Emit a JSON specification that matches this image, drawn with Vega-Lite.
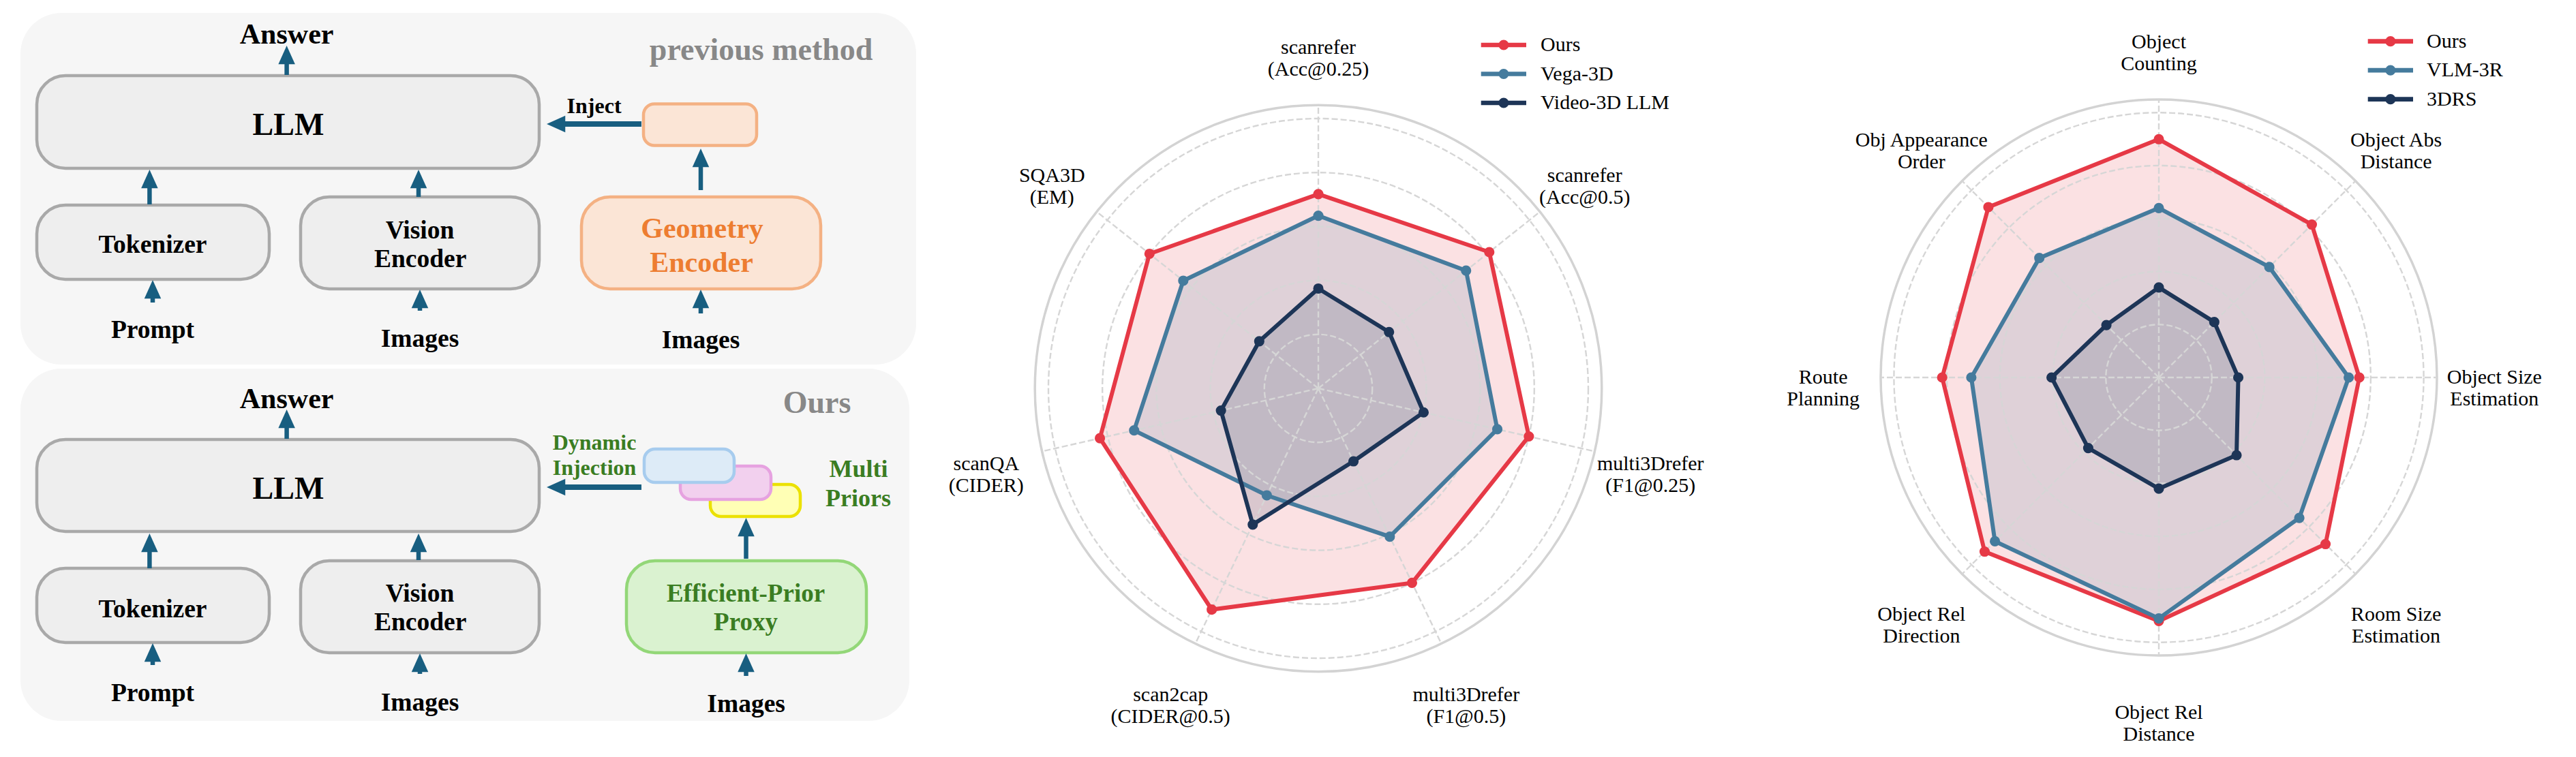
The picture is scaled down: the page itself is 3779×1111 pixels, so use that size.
{
  "$schema": "https://vega.github.io/schema/vega-lite/v6.json",
  "background": "white",
  "padding": 0,
  "spacing": 0,
  "bounds": "flush",
  "config": {"view": {"stroke": null}, "axis": {"disable": true}},
  "resolve": {
    "scale": {"color": "independent", "fill": "independent", "stroke": "independent", "size": "independent", "shape": "independent", "strokeWidth": "independent"},
    "legend": {"color": "independent", "fill": "independent", "stroke": "independent", "size": "independent", "shape": "independent", "strokeWidth": "independent"}
  },
  "datasets": {
    "panels": [
      {"x": 30, "x2": 1344, "y": 19, "y2": 535},
      {"x": 30, "x2": 1334, "y": 541, "y2": 1058}
    ],
    "bigboxes": [
      {"x": 54, "x2": 791, "y": 111, "y2": 247, "k": "gray"},
      {"x": 54, "x2": 395, "y": 301, "y2": 410, "k": "gray"},
      {"x": 441, "x2": 791, "y": 289, "y2": 424, "k": "gray"},
      {"x": 853, "x2": 1204, "y": 289, "y2": 424, "k": "peach"},
      {"x": 54, "x2": 791, "y": 645, "y2": 780, "k": "gray"},
      {"x": 54, "x2": 395, "y": 834, "y2": 943, "k": "gray"},
      {"x": 441, "x2": 791, "y": 823, "y2": 958, "k": "gray"},
      {"x": 919, "x2": 1271, "y": 823, "y2": 958, "k": "green"}
    ],
    "smallboxes": [
      {"x": 944, "x2": 1110, "y": 152.5, "y2": 213.5, "k": "peach"},
      {"x": 1042, "x2": 1174, "y": 711, "y2": 758, "k": "yellow"},
      {"x": 998, "x2": 1131, "y": 684, "y2": 733, "k": "pink"},
      {"x": 945, "x2": 1077, "y": 659, "y2": 708, "k": "blue"}
    ],
    "arrows": [
      {"x": 420.6, "y": 110, "x2": 420.6, "y2": 93, "d": "up"},
      {"x": 219.4, "y": 300, "x2": 219.4, "y2": 275, "d": "up"},
      {"x": 614, "y": 289, "x2": 614, "y2": 275, "d": "up"},
      {"x": 224, "y": 444, "x2": 224, "y2": 437, "d": "up"},
      {"x": 616, "y": 456, "x2": 616, "y2": 451, "d": "up"},
      {"x": 1028, "y": 460, "x2": 1028, "y2": 451, "d": "up"},
      {"x": 1028, "y": 279, "x2": 1028, "y2": 244, "d": "up"},
      {"x": 941, "y": 182, "x2": 828, "y2": 182, "d": "left"},
      {"x": 420.6, "y": 644, "x2": 420.6, "y2": 627, "d": "up"},
      {"x": 219.4, "y": 834, "x2": 219.4, "y2": 809, "d": "up"},
      {"x": 614, "y": 822, "x2": 614, "y2": 809, "d": "up"},
      {"x": 224, "y": 976, "x2": 224, "y2": 970, "d": "up"},
      {"x": 616, "y": 989, "x2": 616, "y2": 985, "d": "up"},
      {"x": 1094.5, "y": 992, "x2": 1094.5, "y2": 985, "d": "up"},
      {"x": 1094.5, "y": 820, "x2": 1094.5, "y2": 786, "d": "up"},
      {"x": 941, "y": 715, "x2": 828, "y2": 715, "d": "left"}
    ],
    "texts": [
      {"t": "Answer", "x": 420.6, "y": 63.7, "k": "ans"},
      {"t": "LLM", "x": 423, "y": 198, "k": "llm"},
      {"t": "Tokenizer", "x": 224, "y": 371, "k": "lab"},
      {"t": "Vision", "x": 616, "y": 349.5, "k": "lab"},
      {"t": "Encoder", "x": 616.7, "y": 392, "k": "lab"},
      {"t": "Geometry", "x": 1030, "y": 348.5, "k": "geo"},
      {"t": "Encoder", "x": 1029, "y": 399.4, "k": "geo"},
      {"t": "Prompt", "x": 224, "y": 496, "k": "lab"},
      {"t": "Images", "x": 616, "y": 509, "k": "lab"},
      {"t": "Images", "x": 1028, "y": 511.4, "k": "lab"},
      {"t": "previous method", "x": 1116.6, "y": 87.8, "k": "hdr"},
      {"t": "Inject", "x": 871.6, "y": 166, "k": "inj"},
      {"t": "Answer", "x": 420.6, "y": 598.5, "k": "ans"},
      {"t": "LLM", "x": 423, "y": 732, "k": "llm"},
      {"t": "Tokenizer", "x": 224, "y": 906, "k": "lab"},
      {"t": "Vision", "x": 616, "y": 883, "k": "lab"},
      {"t": "Encoder", "x": 616.7, "y": 924.6, "k": "lab"},
      {"t": "Efficient-Prior", "x": 1094, "y": 883, "k": "prox"},
      {"t": "Proxy", "x": 1094, "y": 924.6, "k": "prox"},
      {"t": "Prompt", "x": 224, "y": 1029.4, "k": "lab"},
      {"t": "Images", "x": 616, "y": 1043, "k": "lab"},
      {"t": "Images", "x": 1094.6, "y": 1045, "k": "lab"},
      {"t": "Ours", "x": 1198.5, "y": 606, "k": "hdr"},
      {"t": "Dynamic", "x": 872, "y": 659.7, "k": "dyn"},
      {"t": "Injection", "x": 872, "y": 696.7, "k": "dyn"},
      {"t": "Multi", "x": 1259.5, "y": 700.4, "k": "multi"},
      {"t": "Priors", "x": 1259, "y": 743, "k": "multi"}
    ],
    "grid": [{"r": 0.2}, {"r": 0.4}, {"r": 0.6}, {"r": 0.8}, {"r": 1.0}],
    "spine": [{"r": 1.05}],
    "leg1": [{"model": "Ours", "rank": 0}, {"model": "Vega-3D", "rank": 1}, {"model": "Video-3D LLM", "rank": 2}],
    "leg2": [{"model": "Ours", "rank": 0}, {"model": "VLM-3R", "rank": 1}, {"model": "3DRS", "rank": 2}],
    "r1": [
      {"m": 0, "model": "Ours", "v": 0.72}, {"m": 1, "model": "Ours", "v": 0.81}, {"m": 2, "model": "Ours", "v": 0.80}, {"m": 3, "model": "Ours", "v": 0.80}, {"m": 4, "model": "Ours", "v": 0.91}, {"m": 5, "model": "Ours", "v": 0.83}, {"m": 6, "model": "Ours", "v": 0.80},
      {"m": 0, "model": "Vega-3D", "v": 0.64}, {"m": 1, "model": "Vega-3D", "v": 0.70}, {"m": 2, "model": "Vega-3D", "v": 0.68}, {"m": 3, "model": "Vega-3D", "v": 0.61}, {"m": 4, "model": "Vega-3D", "v": 0.44}, {"m": 5, "model": "Vega-3D", "v": 0.70}, {"m": 6, "model": "Vega-3D", "v": 0.64},
      {"m": 0, "model": "Video-3D LLM", "v": 0.37}, {"m": 1, "model": "Video-3D LLM", "v": 0.335}, {"m": 2, "model": "Video-3D LLM", "v": 0.40}, {"m": 3, "model": "Video-3D LLM", "v": 0.30}, {"m": 4, "model": "Video-3D LLM", "v": 0.56}, {"m": 5, "model": "Video-3D LLM", "v": 0.37}, {"m": 6, "model": "Video-3D LLM", "v": 0.28}
    ],
    "r1axes": [
      {"m": 0, "label": "scanrefer\n(Acc@0.25)"},
      {"m": 1, "label": "scanrefer\n(Acc@0.5)"},
      {"m": 2, "label": "multi3Drefer\n(F1@0.25)"},
      {"m": 3, "label": "multi3Drefer\n(F1@0.5)"},
      {"m": 4, "label": "scan2cap\n(CIDER@0.5)"},
      {"m": 5, "label": "scanQA\n(CIDER)"},
      {"m": 6, "label": "SQA3D\n(EM)"}
    ],
    "r2": [
      {"m": 0, "model": "Ours", "v": 0.90}, {"m": 1, "model": "Ours", "v": 0.817}, {"m": 2, "model": "Ours", "v": 0.757}, {"m": 3, "model": "Ours", "v": 0.89}, {"m": 4, "model": "Ours", "v": 0.92}, {"m": 5, "model": "Ours", "v": 0.93}, {"m": 6, "model": "Ours", "v": 0.818}, {"m": 7, "model": "Ours", "v": 0.91},
      {"m": 0, "model": "VLM-3R", "v": 0.64}, {"m": 1, "model": "VLM-3R", "v": 0.59}, {"m": 2, "model": "VLM-3R", "v": 0.717}, {"m": 3, "model": "VLM-3R", "v": 0.75}, {"m": 4, "model": "VLM-3R", "v": 0.91}, {"m": 5, "model": "VLM-3R", "v": 0.875}, {"m": 6, "model": "VLM-3R", "v": 0.708}, {"m": 7, "model": "VLM-3R", "v": 0.638},
      {"m": 0, "model": "3DRS", "v": 0.34}, {"m": 1, "model": "3DRS", "v": 0.296}, {"m": 2, "model": "3DRS", "v": 0.30}, {"m": 3, "model": "3DRS", "v": 0.415}, {"m": 4, "model": "3DRS", "v": 0.42}, {"m": 5, "model": "3DRS", "v": 0.377}, {"m": 6, "model": "3DRS", "v": 0.405}, {"m": 7, "model": "3DRS", "v": 0.28}
    ],
    "r2axes": [
      {"m": 0, "label": "Object\nCounting"},
      {"m": 1, "label": "Object Abs\nDistance"},
      {"m": 2, "label": "Object Size\nEstimation"},
      {"m": 3, "label": "Room Size\nEstimation"},
      {"m": 4, "label": "Object Rel\nDistance"},
      {"m": 5, "label": "Object Rel\nDirection"},
      {"m": 6, "label": "Route\nPlanning"},
      {"m": 7, "label": "Obj Appearance\nOrder"}
    ]
  },
  "hconcat": [
    {
      "width": 1350,
      "height": 1111,
      "layer": [
        {
          "data": {"name": "panels"},
          "mark": {"type": "rect", "fill": "#f6f6f6", "cornerRadius": 60},
          "encoding": {
            "x": {"field": "x", "type": "quantitative", "scale": {"domain": [0, 1350], "nice": false, "zero": false}},
            "x2": {"field": "x2"},
            "y": {"field": "y", "type": "quantitative", "scale": {"domain": [0, 1111], "nice": false, "zero": false, "reverse": true}},
            "y2": {"field": "y2"}
          }
        },
        {
          "data": {"name": "bigboxes"},
          "mark": {"type": "rect", "cornerRadius": 42, "strokeWidth": 4.5},
          "encoding": {
            "x": {"field": "x", "type": "quantitative", "scale": {"domain": [0, 1350], "nice": false, "zero": false}},
            "x2": {"field": "x2"},
            "y": {"field": "y", "type": "quantitative", "scale": {"domain": [0, 1111], "nice": false, "zero": false, "reverse": true}},
            "y2": {"field": "y2"},
            "fill": {"field": "k", "type": "nominal", "legend": null, "scale": {"domain": ["gray", "peach", "green", "yellow", "pink", "blue"], "range": ["#eeeeee", "#fbe5d6", "#daf2d0", "#ffffb5", "#f2d0ee", "#ddebf7"]}},
            "stroke": {"field": "k", "type": "nominal", "legend": null, "scale": {"domain": ["gray", "peach", "green", "yellow", "pink", "blue"], "range": ["#a9a9a9", "#f4b183", "#93d778", "#ebe100", "#e6a2e0", "#a7ccee"]}}
          }
        },
        {
          "data": {"name": "smallboxes"},
          "mark": {"type": "rect", "cornerRadius": 16, "strokeWidth": 4.5},
          "encoding": {
            "x": {"field": "x", "type": "quantitative", "scale": {"domain": [0, 1350], "nice": false, "zero": false}},
            "x2": {"field": "x2"},
            "y": {"field": "y", "type": "quantitative", "scale": {"domain": [0, 1111], "nice": false, "zero": false, "reverse": true}},
            "y2": {"field": "y2"},
            "fill": {"field": "k", "type": "nominal", "legend": null, "scale": {"domain": ["gray", "peach", "green", "yellow", "pink", "blue"], "range": ["#eeeeee", "#fbe5d6", "#daf2d0", "#ffffb5", "#f2d0ee", "#ddebf7"]}},
            "stroke": {"field": "k", "type": "nominal", "legend": null, "scale": {"domain": ["gray", "peach", "green", "yellow", "pink", "blue"], "range": ["#a9a9a9", "#f4b183", "#93d778", "#ebe100", "#e6a2e0", "#a7ccee"]}}
          }
        },
        {
          "data": {"name": "arrows"},
          "mark": {"type": "rule", "color": "#185E80"},
          "encoding": {
            "x": {"field": "x", "type": "quantitative", "scale": {"domain": [0, 1350], "nice": false, "zero": false}},
            "x2": {"field": "x2"},
            "y": {"field": "y", "type": "quantitative", "scale": {"domain": [0, 1111], "nice": false, "zero": false, "reverse": true}},
            "y2": {"field": "y2"},
            "strokeWidth": {"field": "d", "type": "nominal", "legend": null, "scale": {"type": "ordinal", "domain": ["up", "left"], "range": [6.5, 8]}}
          }
        },
        {
          "data": {"name": "arrows"},
          "mark": {"type": "point", "filled": true, "size": 625, "color": "#185E80", "opacity": 1, "strokeWidth": 0},
          "encoding": {
            "x": {"field": "x2", "type": "quantitative", "scale": {"domain": [0, 1350], "nice": false, "zero": false}},
            "y": {"field": "y2", "type": "quantitative", "scale": {"domain": [0, 1111], "nice": false, "zero": false, "reverse": true}},
            "shape": {"field": "d", "type": "nominal", "legend": null, "scale": {"domain": ["up", "left"], "range": ["M0,-2.08L0.98,0.1L-0.98,0.1Z", "M-2.08,0L0.1,-0.98L0.1,0.98Z"]}}
          }
        },
        {
          "data": {"name": "texts"},
          "mark": {"type": "text", "font": "Liberation Serif", "fontWeight": "bold", "align": "center", "baseline": "alphabetic"},
          "encoding": {
            "x": {"field": "x", "type": "quantitative", "scale": {"domain": [0, 1350], "nice": false, "zero": false}},
            "y": {"field": "y", "type": "quantitative", "scale": {"domain": [0, 1111], "nice": false, "zero": false, "reverse": true}},
            "text": {"field": "t"},
            "size": {"field": "k", "type": "nominal", "legend": null, "scale": {"type": "ordinal", "domain": ["ans", "llm", "lab", "geo", "prox", "hdr", "inj", "dyn", "multi"], "range": [42, 46, 37.5, 42, 37, 46, 32, 32, 36]}},
            "color": {"field": "k", "type": "nominal", "legend": null, "scale": {"domain": ["ans", "llm", "lab", "geo", "prox", "hdr", "inj", "dyn", "multi"], "range": ["#000000", "#000000", "#000000", "#ED7D31", "#3A7D22", "#888888", "#000000", "#3A7D22", "#3A7D22"]}}
          }
        }
      ]
    },
    {
      "width": 1230,
      "height": 1111,
      "layer": [
        {
          "data": {"name": "r1"},
          "transform": [
            {"calculate": "datum.v*sin(2*PI*datum.m/7)", "as": "px"},
            {"calculate": "datum.v*cos(2*PI*datum.m/7)", "as": "py"}
          ],
          "mark": {"type": "line", "interpolate": "linear-closed", "fillOpacity": 0.15, "strokeOpacity": 0, "strokeWidth": 0},
          "encoding": {
            "x": {"field": "px", "type": "quantitative", "scale": {"domain": [-1.47475, 1.63131], "nice": false, "zero": false}},
            "y": {"field": "py", "type": "quantitative", "scale": {"domain": [-1.36616, 1.43939], "nice": false, "zero": false}},
            "order": {"field": "m", "type": "quantitative"},
            "fill": {"field": "model", "type": "nominal", "legend": null, "scale": {"domain": ["Ours", "Vega-3D", "Video-3D LLM"], "range": ["#E63946", "#457B9D", "#1D3557"]}}
          }
        },
        {
          "data": {"name": "grid"},
          "transform": [{"calculate": "0", "as": "cx"}],
          "mark": {"type": "point", "shape": "circle", "filled": false, "stroke": "#d6d6d6", "strokeWidth": 2.4, "strokeDash": [9, 4], "opacity": 1},
          "encoding": {
            "x": {"field": "cx", "type": "quantitative", "scale": {"domain": [-1.47475, 1.63131], "nice": false, "zero": false}},
            "y": {"field": "cx", "type": "quantitative", "scale": {"domain": [-1.36616, 1.43939], "nice": false, "zero": false}},
            "size": {"field": "r", "type": "quantitative", "legend": null, "scale": {"type": "pow", "exponent": 2, "domain": [0, 1.05], "range": [0, 691558]}}
          }
        },
        {
          "data": {"name": "spine"},
          "transform": [{"calculate": "0", "as": "cx"}],
          "mark": {"type": "point", "shape": "circle", "filled": false, "stroke": "#d3d3d3", "strokeWidth": 3.5, "opacity": 1},
          "encoding": {
            "x": {"field": "cx", "type": "quantitative", "scale": {"domain": [-1.47475, 1.63131], "nice": false, "zero": false}},
            "y": {"field": "cx", "type": "quantitative", "scale": {"domain": [-1.36616, 1.43939], "nice": false, "zero": false}},
            "size": {"field": "r", "type": "quantitative", "legend": null, "scale": {"type": "pow", "exponent": 2, "domain": [0, 1.05], "range": [0, 691558]}}
          }
        },
        {
          "data": {"name": "r1axes"},
          "transform": [
            {"calculate": "0", "as": "cx"},
            {"calculate": "1.05*sin(2*PI*datum.m/7)", "as": "sx"},
            {"calculate": "1.05*cos(2*PI*datum.m/7)", "as": "sy"}
          ],
          "mark": {"type": "rule", "color": "#d6d6d6", "strokeWidth": 2.4, "strokeDash": [9, 4]},
          "encoding": {
            "x": {"field": "cx", "type": "quantitative", "scale": {"domain": [-1.47475, 1.63131], "nice": false, "zero": false}},
            "y": {"field": "cx", "type": "quantitative", "scale": {"domain": [-1.36616, 1.43939], "nice": false, "zero": false}},
            "x2": {"field": "sx"},
            "y2": {"field": "sy"}
          }
        },
        {
          "data": {"name": "r1"},
          "transform": [
            {"calculate": "datum.v*sin(2*PI*datum.m/7)", "as": "px"},
            {"calculate": "datum.v*cos(2*PI*datum.m/7)", "as": "py"}
          ],
          "mark": {"type": "line", "interpolate": "linear-closed", "strokeWidth": 6},
          "encoding": {
            "x": {"field": "px", "type": "quantitative", "scale": {"domain": [-1.47475, 1.63131], "nice": false, "zero": false}},
            "y": {"field": "py", "type": "quantitative", "scale": {"domain": [-1.36616, 1.43939], "nice": false, "zero": false}},
            "order": {"field": "m", "type": "quantitative"},
            "color": {"field": "model", "type": "nominal", "legend": null, "scale": {"domain": ["Ours", "Vega-3D", "Video-3D LLM"], "range": ["#E63946", "#457B9D", "#1D3557"]}}
          }
        },
        {
          "data": {"name": "r1"},
          "transform": [
            {"calculate": "datum.v*sin(2*PI*datum.m/7)", "as": "px"},
            {"calculate": "datum.v*cos(2*PI*datum.m/7)", "as": "py"}
          ],
          "mark": {"type": "point", "filled": true, "size": 230, "opacity": 1},
          "encoding": {
            "x": {"field": "px", "type": "quantitative", "scale": {"domain": [-1.47475, 1.63131], "nice": false, "zero": false}},
            "y": {"field": "py", "type": "quantitative", "scale": {"domain": [-1.36616, 1.43939], "nice": false, "zero": false}},
            "color": {"field": "model", "type": "nominal", "legend": null, "scale": {"domain": ["Ours", "Vega-3D", "Video-3D LLM"], "range": ["#E63946", "#457B9D", "#1D3557"]}}
          }
        },
        {
          "data": {"name": "r1axes"},
          "transform": [
            {"calculate": "1.262*sin(2*PI*datum.m/7)", "as": "lx"},
            {"calculate": "1.262*cos(2*PI*datum.m/7)", "as": "ly"}
          ],
          "mark": {"type": "text", "font": "Liberation Serif", "fontSize": 30, "lineBreak": "\n", "lineHeight": 32, "align": "center", "baseline": "middle", "color": "#000000"},
          "encoding": {
            "x": {"field": "lx", "type": "quantitative", "scale": {"domain": [-1.47475, 1.63131], "nice": false, "zero": false}},
            "y": {"field": "ly", "type": "quantitative", "scale": {"domain": [-1.36616, 1.43939], "nice": false, "zero": false}},
            "text": {"field": "label"}
          }
        },
        {
          "data": {"name": "leg1"},
          "transform": [
            {"calculate": "1.27272 - datum.rank*0.10732", "as": "ly"},
            {"calculate": "0.60278", "as": "la"},
            {"calculate": "0.77020", "as": "lb"}
          ],
          "mark": {"type": "rule", "strokeWidth": 6.7},
          "encoding": {
            "x": {"field": "la", "type": "quantitative", "scale": {"domain": [-1.47475, 1.63131], "nice": false, "zero": false}},
            "x2": {"field": "lb"},
            "y": {"field": "ly", "type": "quantitative", "scale": {"domain": [-1.36616, 1.43939], "nice": false, "zero": false}},
            "color": {"field": "model", "type": "nominal", "legend": null, "scale": {"domain": ["Ours", "Vega-3D", "Video-3D LLM"], "range": ["#E63946", "#457B9D", "#1D3557"]}}
          }
        },
        {
          "data": {"name": "leg1"},
          "transform": [
            {"calculate": "1.27272 - datum.rank*0.10732", "as": "ly"},
            {"calculate": "0.68662", "as": "lm"}
          ],
          "mark": {"type": "point", "filled": true, "size": 230, "opacity": 1},
          "encoding": {
            "x": {"field": "lm", "type": "quantitative", "scale": {"domain": [-1.47475, 1.63131], "nice": false, "zero": false}},
            "y": {"field": "ly", "type": "quantitative", "scale": {"domain": [-1.36616, 1.43939], "nice": false, "zero": false}},
            "color": {"field": "model", "type": "nominal", "legend": null, "scale": {"domain": ["Ours", "Vega-3D", "Video-3D LLM"], "range": ["#E63946", "#457B9D", "#1D3557"]}}
          }
        },
        {
          "data": {"name": "leg1"},
          "transform": [
            {"calculate": "1.27272 - datum.rank*0.10732", "as": "ly"},
            {"calculate": "0.82322", "as": "lt"}
          ],
          "mark": {"type": "text", "font": "Liberation Serif", "fontSize": 30, "align": "left", "baseline": "middle", "color": "#000000"},
          "encoding": {
            "x": {"field": "lt", "type": "quantitative", "scale": {"domain": [-1.47475, 1.63131], "nice": false, "zero": false}},
            "y": {"field": "ly", "type": "quantitative", "scale": {"domain": [-1.36616, 1.43939], "nice": false, "zero": false}},
            "text": {"field": "model"}
          }
        }
      ]
    },
    {
      "width": 1199,
      "height": 1111,
      "layer": [
        {
          "data": {"name": "r2"},
          "transform": [
            {"calculate": "datum.v*sin(2*PI*datum.m/8)", "as": "px"},
            {"calculate": "datum.v*cos(2*PI*datum.m/8)", "as": "py"}
          ],
          "mark": {"type": "line", "interpolate": "linear-closed", "fillOpacity": 0.15, "strokeOpacity": 0, "strokeWidth": 0},
          "encoding": {
            "x": {"field": "px", "type": "quantitative", "scale": {"domain": [-1.51067, 1.57501], "nice": false, "zero": false}},
            "y": {"field": "py", "type": "quantitative", "scale": {"domain": [-1.43346, 1.42574], "nice": false, "zero": false}},
            "order": {"field": "m", "type": "quantitative"},
            "fill": {"field": "model", "type": "nominal", "legend": null, "scale": {"domain": ["Ours", "VLM-3R", "3DRS"], "range": ["#E63946", "#457B9D", "#1D3557"]}}
          }
        },
        {
          "data": {"name": "grid"},
          "transform": [{"calculate": "0", "as": "cx"}],
          "mark": {"type": "point", "shape": "circle", "filled": false, "stroke": "#d6d6d6", "strokeWidth": 2.4, "strokeDash": [9, 4], "opacity": 1},
          "encoding": {
            "x": {"field": "cx", "type": "quantitative", "scale": {"domain": [-1.51067, 1.57501], "nice": false, "zero": false}},
            "y": {"field": "cx", "type": "quantitative", "scale": {"domain": [-1.43346, 1.42574], "nice": false, "zero": false}},
            "size": {"field": "r", "type": "quantitative", "legend": null, "scale": {"type": "pow", "exponent": 2, "domain": [0, 1.05], "range": [0, 665856]}}
          }
        },
        {
          "data": {"name": "spine"},
          "transform": [{"calculate": "0", "as": "cx"}],
          "mark": {"type": "point", "shape": "circle", "filled": false, "stroke": "#d3d3d3", "strokeWidth": 3.5, "opacity": 1},
          "encoding": {
            "x": {"field": "cx", "type": "quantitative", "scale": {"domain": [-1.51067, 1.57501], "nice": false, "zero": false}},
            "y": {"field": "cx", "type": "quantitative", "scale": {"domain": [-1.43346, 1.42574], "nice": false, "zero": false}},
            "size": {"field": "r", "type": "quantitative", "legend": null, "scale": {"type": "pow", "exponent": 2, "domain": [0, 1.05], "range": [0, 665856]}}
          }
        },
        {
          "data": {"name": "r2axes"},
          "transform": [
            {"calculate": "0", "as": "cx"},
            {"calculate": "1.05*sin(2*PI*datum.m/8)", "as": "sx"},
            {"calculate": "1.05*cos(2*PI*datum.m/8)", "as": "sy"}
          ],
          "mark": {"type": "rule", "color": "#d6d6d6", "strokeWidth": 2.4, "strokeDash": [9, 4]},
          "encoding": {
            "x": {"field": "cx", "type": "quantitative", "scale": {"domain": [-1.51067, 1.57501], "nice": false, "zero": false}},
            "y": {"field": "cx", "type": "quantitative", "scale": {"domain": [-1.43346, 1.42574], "nice": false, "zero": false}},
            "x2": {"field": "sx"},
            "y2": {"field": "sy"}
          }
        },
        {
          "data": {"name": "r2"},
          "transform": [
            {"calculate": "datum.v*sin(2*PI*datum.m/8)", "as": "px"},
            {"calculate": "datum.v*cos(2*PI*datum.m/8)", "as": "py"}
          ],
          "mark": {"type": "line", "interpolate": "linear-closed", "strokeWidth": 6},
          "encoding": {
            "x": {"field": "px", "type": "quantitative", "scale": {"domain": [-1.51067, 1.57501], "nice": false, "zero": false}},
            "y": {"field": "py", "type": "quantitative", "scale": {"domain": [-1.43346, 1.42574], "nice": false, "zero": false}},
            "order": {"field": "m", "type": "quantitative"},
            "color": {"field": "model", "type": "nominal", "legend": null, "scale": {"domain": ["Ours", "VLM-3R", "3DRS"], "range": ["#E63946", "#457B9D", "#1D3557"]}}
          }
        },
        {
          "data": {"name": "r2"},
          "transform": [
            {"calculate": "datum.v*sin(2*PI*datum.m/8)", "as": "px"},
            {"calculate": "datum.v*cos(2*PI*datum.m/8)", "as": "py"}
          ],
          "mark": {"type": "point", "filled": true, "size": 230, "opacity": 1},
          "encoding": {
            "x": {"field": "px", "type": "quantitative", "scale": {"domain": [-1.51067, 1.57501], "nice": false, "zero": false}},
            "y": {"field": "py", "type": "quantitative", "scale": {"domain": [-1.43346, 1.42574], "nice": false, "zero": false}},
            "color": {"field": "model", "type": "nominal", "legend": null, "scale": {"domain": ["Ours", "VLM-3R", "3DRS"], "range": ["#E63946", "#457B9D", "#1D3557"]}}
          }
        },
        {
          "data": {"name": "r2axes"},
          "transform": [
            {"calculate": "1.267*sin(2*PI*datum.m/8)", "as": "lx"},
            {"calculate": "1.267*cos(2*PI*datum.m/8)", "as": "ly"}
          ],
          "mark": {"type": "text", "font": "Liberation Serif", "fontSize": 30, "lineBreak": "\n", "lineHeight": 32, "align": "center", "baseline": "middle", "color": "#000000"},
          "encoding": {
            "x": {"field": "lx", "type": "quantitative", "scale": {"domain": [-1.51067, 1.57501], "nice": false, "zero": false}},
            "y": {"field": "ly", "type": "quantitative", "scale": {"domain": [-1.43346, 1.42574], "nice": false, "zero": false}},
            "text": {"field": "label"}
          }
        },
        {
          "data": {"name": "leg2"},
          "transform": [
            {"calculate": "1.26953 - datum.rank*0.10938", "as": "ly"},
            {"calculate": "0.78930", "as": "la"},
            {"calculate": "0.95993", "as": "lb"}
          ],
          "mark": {"type": "rule", "strokeWidth": 6.7},
          "encoding": {
            "x": {"field": "la", "type": "quantitative", "scale": {"domain": [-1.51067, 1.57501], "nice": false, "zero": false}},
            "x2": {"field": "lb"},
            "y": {"field": "ly", "type": "quantitative", "scale": {"domain": [-1.43346, 1.42574], "nice": false, "zero": false}},
            "color": {"field": "model", "type": "nominal", "legend": null, "scale": {"domain": ["Ours", "VLM-3R", "3DRS"], "range": ["#E63946", "#457B9D", "#1D3557"]}}
          }
        },
        {
          "data": {"name": "leg2"},
          "transform": [
            {"calculate": "1.26953 - datum.rank*0.10938", "as": "ly"},
            {"calculate": "0.87462", "as": "lm"}
          ],
          "mark": {"type": "point", "filled": true, "size": 230, "opacity": 1},
          "encoding": {
            "x": {"field": "lm", "type": "quantitative", "scale": {"domain": [-1.51067, 1.57501], "nice": false, "zero": false}},
            "y": {"field": "ly", "type": "quantitative", "scale": {"domain": [-1.43346, 1.42574], "nice": false, "zero": false}},
            "color": {"field": "model", "type": "nominal", "legend": null, "scale": {"domain": ["Ours", "VLM-3R", "3DRS"], "range": ["#E63946", "#457B9D", "#1D3557"]}}
          }
        },
        {
          "data": {"name": "leg2"},
          "transform": [
            {"calculate": "1.26953 - datum.rank*0.10938", "as": "ly"},
            {"calculate": "1.01140", "as": "lt"}
          ],
          "mark": {"type": "text", "font": "Liberation Serif", "fontSize": 30, "align": "left", "baseline": "middle", "color": "#000000"},
          "encoding": {
            "x": {"field": "lt", "type": "quantitative", "scale": {"domain": [-1.51067, 1.57501], "nice": false, "zero": false}},
            "y": {"field": "ly", "type": "quantitative", "scale": {"domain": [-1.43346, 1.42574], "nice": false, "zero": false}},
            "text": {"field": "model"}
          }
        }
      ]
    }
  ]
}
